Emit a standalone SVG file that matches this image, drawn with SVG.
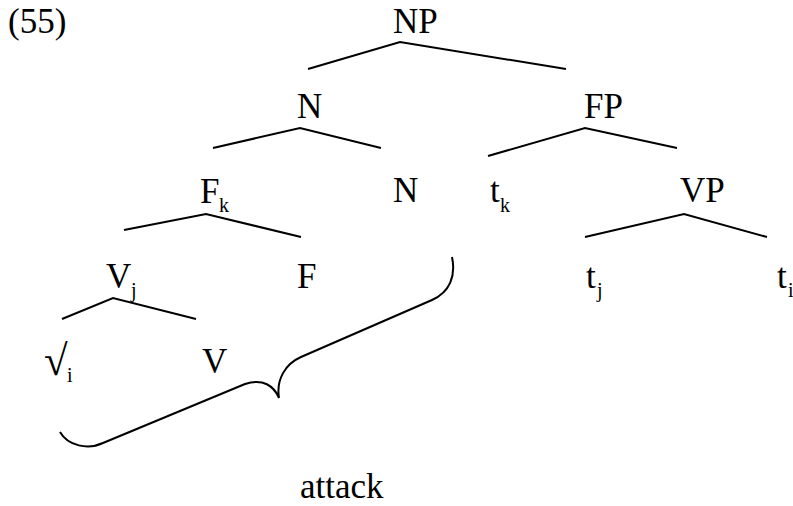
<svg xmlns="http://www.w3.org/2000/svg" width="793" height="506" viewBox="0 0 793 506" font-family="'Liberation Serif', 'Times New Roman', 'DejaVu Serif', serif">
<style>
text{font-family:'Liberation Serif','Times New Roman','DejaVu Serif',serif;fill:#000;font-size:35px}
.s{font-size:20px}
.r{font-size:43px}
.e{fill:none;stroke:#000;stroke-width:2;stroke-linecap:butt}
</style>
<rect width="793" height="506" fill="#fff"/>
<text x="8" y="33">(55)</text>
<g id="NP"><text x="393" y="33">NP</text></g>
<g id="N1"><text x="297" y="118">N</text></g>
<g id="FP"><text x="584" y="118">FP</text></g>
<g id="Fk"><text x="200" y="203">F</text><text class="s" x="219" y="212">k</text></g>
<g id="N2"><text x="393" y="202">N</text></g>
<g id="tk"><text x="490" y="202">t</text><text class="s" x="500" y="212">k</text></g>
<g id="VP"><text x="680" y="202">VP</text></g>
<g id="Vj"><text x="106" y="288">V</text><text class="s" x="131" y="297">j</text></g>
<g id="F"><text x="297" y="288">F</text></g>
<g id="tj"><text x="586" y="288">t</text><text class="s" x="597" y="297">j</text></g>
<g id="ti"><text x="777" y="288">t</text><text class="s" x="788" y="297">i</text></g>
<g id="root"><text class="r" x="44" y="375">√</text><text class="s" x="67" y="382">i</text></g>
<g id="V"><text x="202" y="373">V</text></g>
<g id="attack"><text x="300" y="498">attack</text></g>
<g id="connectors">
<polyline class="e" points="308,69 400,42 566,69"/>
<polyline class="e" points="213,148 300,128 381,148"/>
<polyline class="e" points="488,156 585,128 677,148"/>
<polyline class="e" points="124,230 206,214 301,237"/>
<polyline class="e" points="585,237 684,214 767,237"/>
<polyline class="e" points="62,319 113,298 196,319"/>
<path class="e" d="M452,257 C456,276 450,292 432,300 L301,357 C285,364 276,380 279,398 C274,386 263,378 245,384 L103,443 C88,450 68,446 60,432"/>
</g>
</svg>
